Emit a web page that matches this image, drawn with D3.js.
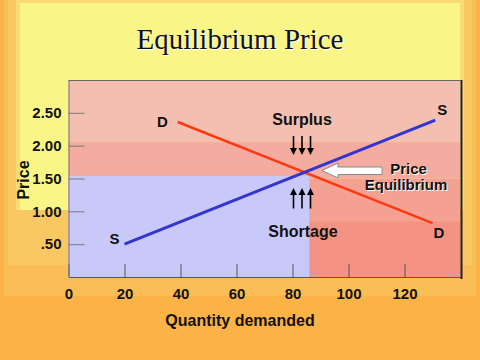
<!DOCTYPE html>
<html><head><meta charset="utf-8">
<script src="https://cdn.jsdelivr.net/npm/d3@7"></script>
<style>html,body{margin:0;padding:0;background:#FBB347;}svg{display:block;}</style>
</head><body>
<script>
// ---- data ----
const xTicks = [0, 20, 40, 60, 80, 100, 120];
const yTicks = [0.5, 1.0, 1.5, 2.0, 2.5];
const yTickLabels = [".50", "1.00", "1.50", "2.00", "2.50"];
const demand = [{q: 39, p: 2.36}, {q: 130, p: 0.82}];
const supply = [{q: 20, p: 0.50}, {q: 131, p: 2.39}];
const equilibrium = {q: 86, p: 1.54};
const bandPrices = [3.0, 2.06, 1.50, 0.85, 0];
const bandColors = ["#F4BFB0", "#F3AC9F", "#F4A193", "#F49383"];
const curveLabels = [
  {t: "D", q: 33.5, p: 2.28}, {t: "S", q: 16.4, p: 0.50},
  {t: "S", q: 133.5, p: 2.47}, {t: "D", q: 132.3, p: 0.60}
];

const W = 480, H = 360;
const svg = d3.select("body").append("svg").attr("width", W).attr("height", H);

// ---- background layers ----
const bg = [
  {x: 0, y: 0, w: 480, h: 360, c: "#FBB347"},
  {x: 4, y: 0, w: 472, h: 296, c: "#FBBE56"},
  {x: 8, y: 0, w: 464, h: 265, c: "#FAC862"},
  {x: 16, y: 0, w: 448, h: 210, c: "#FADC74"},
  {x: 20, y: 3, w: 440, h: 207, c: "#F9F587"}
];
svg.selectAll("rect.bg").data(bg).join("rect")
  .attr("x", d => d.x).attr("y", d => d.y).attr("width", d => d.w).attr("height", d => d.h)
  .attr("fill", d => d.c);

// ---- scales ----
const x = d3.scaleLinear().domain([0, 140]).range([68.5, 460.5]);
const y = d3.scaleLinear().domain([0, 3]).range([277, 80]);

// title
svg.append("text").attr("x", 240).attr("y", 49).attr("text-anchor", "middle")
  .attr("font-family", "Liberation Serif, Times New Roman, serif").attr("font-size", 29)
  .attr("fill", "#fff").attr("transform", "translate(1,1)").text("Equilibrium Price");
svg.append("text").attr("x", 240).attr("y", 49).attr("text-anchor", "middle")
  .attr("font-family", "Liberation Serif, Times New Roman, serif").attr("font-size", 29)
  .attr("fill", "#111").text("Equilibrium Price");

// ---- bands ----
const g = svg.append("g");
g.append("rect").attr("x", x(0)).attr("y", y(bandPrices[0])).attr("width", x(140) - x(0))
  .attr("height", y(bandPrices[1]) - y(bandPrices[0])).attr("fill", bandColors[0]);
g.append("rect").attr("x", x(0)).attr("y", y(bandPrices[1])).attr("width", x(140) - x(0))
  .attr("height", y(bandPrices[2]) - y(bandPrices[1])).attr("fill", bandColors[1]);
g.append("rect").attr("x", x(0)).attr("y", y(bandPrices[2])).attr("width", x(140) - x(0))
  .attr("height", y(bandPrices[3]) - y(bandPrices[2])).attr("fill", bandColors[2]);
g.append("rect").attr("x", x(0)).attr("y", y(bandPrices[3])).attr("width", x(140) - x(0))
  .attr("height", y(bandPrices[4]) - y(bandPrices[3])).attr("fill", bandColors[3]);
g.append("rect").attr("x", x(0)).attr("y", y(equilibrium.p)).attr("width", x(equilibrium.q) - x(0))
  .attr("height", y(0) - y(equilibrium.p)).attr("fill", "#C8C8F9");

// ---- axes ----
const xAxis = svg.append("g").attr("transform", `translate(0,${y(0)})`)
  .call(d3.axisBottom(x).tickValues(xTicks).tickSizeInner(-13).tickSizeOuter(0).tickPadding(11).tickFormat(d3.format("d")));
xAxis.select(".domain").attr("stroke", "#555");
xAxis.selectAll(".tick line").attr("stroke", "#555");
xAxis.selectAll("text").attr("font-family", "Liberation Sans, Arial, sans-serif")
  .attr("font-weight", "bold").attr("font-size", 15).attr("fill", "#111");

const yAxis = svg.append("g").attr("transform", `translate(${x(0)},0)`)
  .call(d3.axisLeft(y).tickValues(yTicks).tickSizeInner(-16).tickSizeOuter(0).tickPadding(7)
    .tickFormat((d, i) => yTickLabels[i]));
yAxis.select(".domain").attr("stroke", "#777");
yAxis.selectAll(".tick line").attr("stroke", "#7a7a7a");
yAxis.selectAll("text").attr("font-family", "Liberation Sans, Arial, sans-serif")
  .attr("font-weight", "bold").attr("font-size", 15).attr("fill", "#111");

// border
svg.append("line").attr("x1", x(0)).attr("x2", x(140)).attr("y1", 80.5).attr("y2", 80.5).attr("stroke", "#666");
svg.append("line").attr("x1", 461.5).attr("x2", 461.5).attr("y1", 80).attr("y2", 279).attr("stroke", "#222").attr("stroke-width", 2);

// ---- curves ----
const line = d3.line().x(d => x(d.q)).y(d => y(d.p));
svg.append("path").datum(demand).attr("d", line).attr("fill", "none").attr("stroke", "#FF3A12").attr("stroke-width", 2.5);
svg.append("path").datum(supply).attr("d", line).attr("fill", "none").attr("stroke", "#3434CF").attr("stroke-width", 3);

const font = "Liberation Sans, Arial, sans-serif";
svg.selectAll("text.cl").data(curveLabels).join("text")
  .attr("x", d => x(d.q)).attr("y", d => y(d.p)).attr("text-anchor", "middle")
  .attr("font-family", font).attr("font-weight", "bold").attr("font-size", 15).attr("fill", "#111")
  .text(d => d.t);

// Surplus / Shortage
svg.append("text").attr("x", 302).attr("y", 125).attr("text-anchor", "middle")
  .attr("font-family", font).attr("font-weight", "bold").attr("font-size", 16).attr("fill", "#111").text("Surplus");
svg.append("text").attr("x", 303).attr("y", 237).attr("text-anchor", "middle")
  .attr("font-family", font).attr("font-weight", "bold").attr("font-size", 16).attr("fill", "#111").text("Shortage");

// small arrows
const arrowX = [293.5, 302, 310.5];
function arrow(xp, y1, y2) {
  const dir = y2 > y1 ? 1 : -1;
  svg.append("line").attr("x1", xp).attr("x2", xp).attr("y1", y1).attr("y2", y2 - dir * 5)
    .attr("stroke", "#000").attr("stroke-width", 1.6);
  svg.append("path").attr("d", `M${xp - 3.5},${y2 - dir * 7}L${xp + 3.5},${y2 - dir * 7}L${xp},${y2}Z`).attr("fill", "#000");
}
arrowX.forEach(a => arrow(a, 136, 155));
arrowX.forEach(a => arrow(a, 208.5, 188));

// white block arrow pointing at equilibrium
svg.append("path")
  .attr("d", "M322,170.5 L338,163 L338,167 L382,167 L382,174.5 L338,174.5 L338,178 Z")
  .attr("fill", "#fff").attr("stroke", "#8a8a8a").attr("stroke-width", 1);

function haloText(t, xp, yp) {
  svg.append("text").attr("x", xp + 1).attr("y", yp + 1).attr("text-anchor", "middle")
    .attr("font-family", font).attr("font-weight", "bold").attr("font-size", 15).attr("fill", "#fff").text(t);
  svg.append("text").attr("x", xp).attr("y", yp).attr("text-anchor", "middle")
    .attr("font-family", font).attr("font-weight", "bold").attr("font-size", 15).attr("fill", "#111").text(t);
}
haloText("Price", 408.5, 173.5);
haloText("Equilibrium", 406, 190);

// axis titles
svg.append("text").attr("transform", "translate(29,180) rotate(-90)").attr("text-anchor", "middle")
  .attr("font-family", font).attr("font-weight", "bold").attr("font-size", 16).attr("fill", "#111").text("Price");
svg.append("text").attr("x", 240).attr("y", 326).attr("text-anchor", "middle")
  .attr("font-family", font).attr("font-weight", "bold").attr("font-size", 16).attr("fill", "#111").text("Quantity demanded");
</script>
</body></html>
